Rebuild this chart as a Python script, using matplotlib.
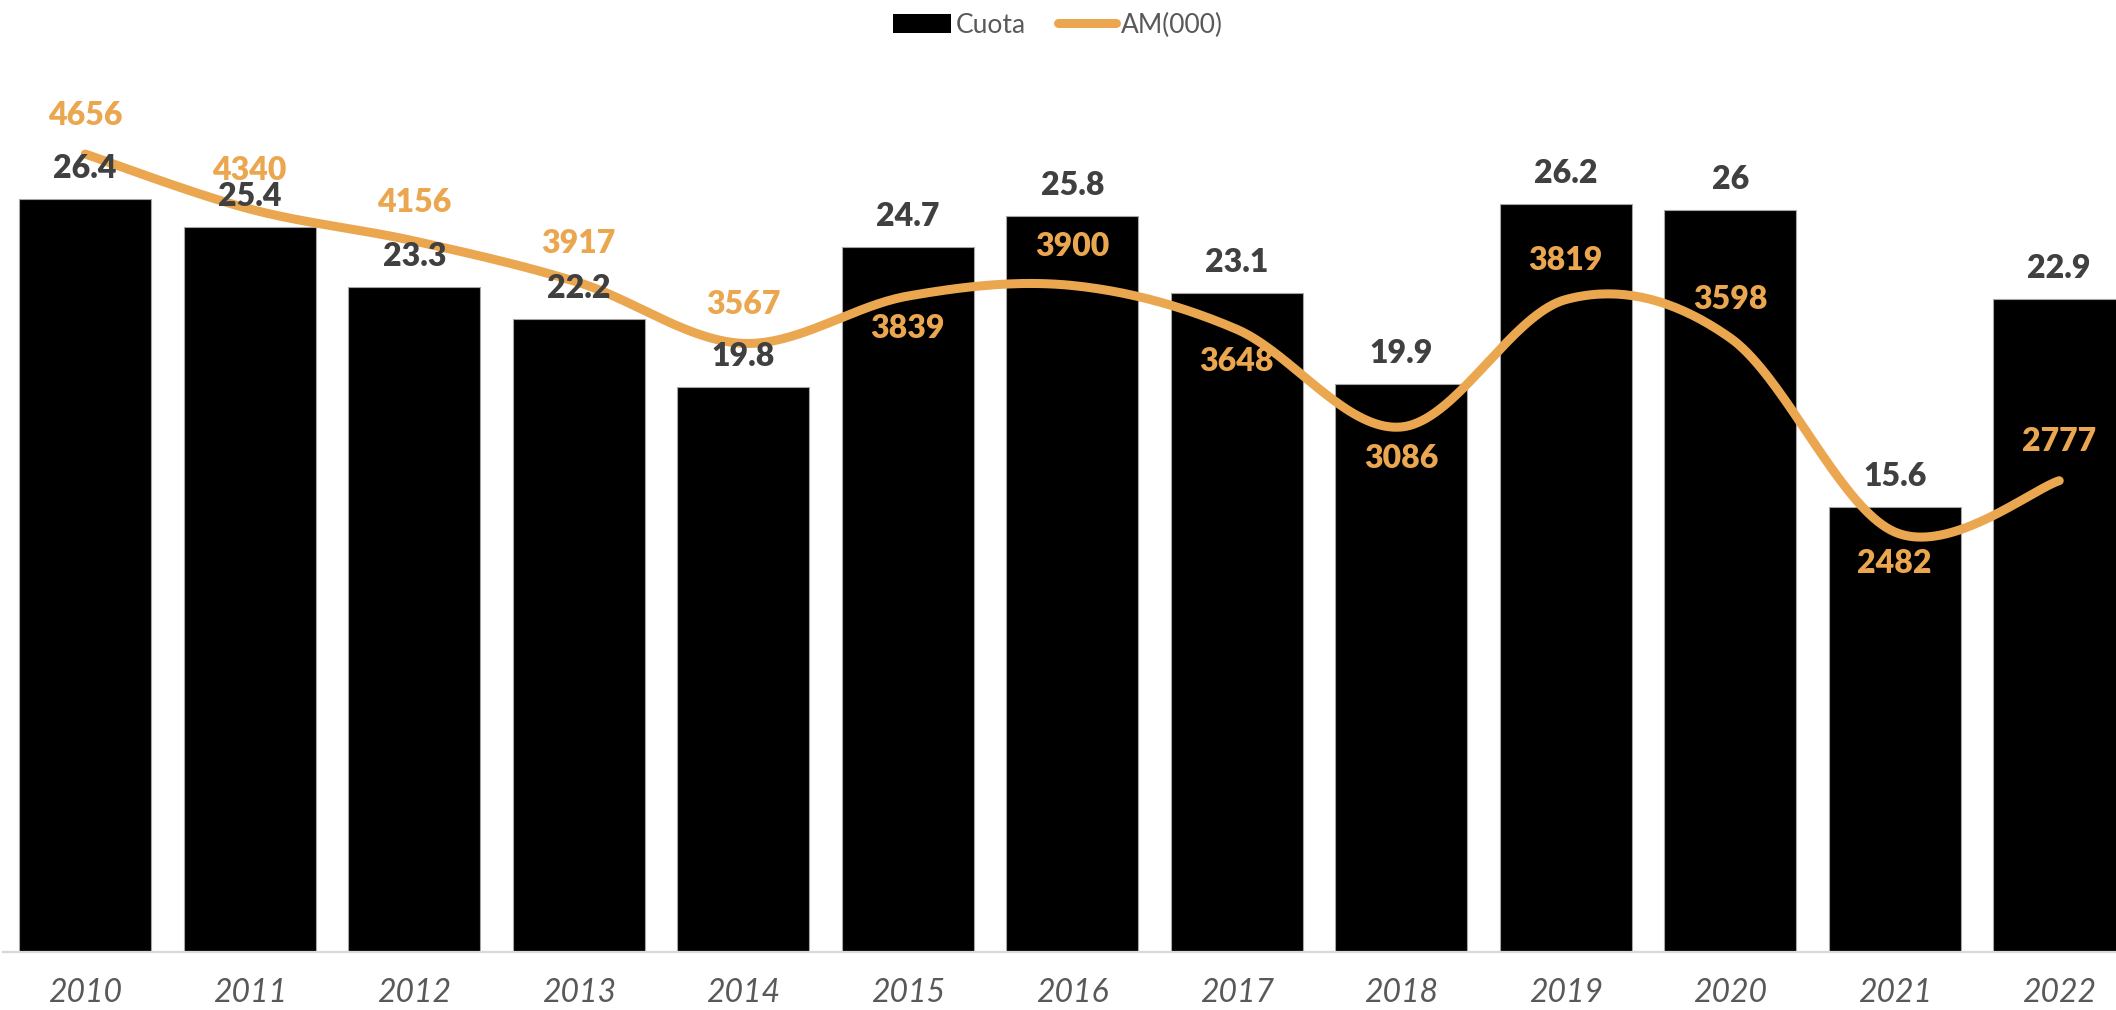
import numpy as np
import matplotlib
matplotlib.use("Agg")
import matplotlib.pyplot as plt
from matplotlib.patches import Patch
from matplotlib.lines import Line2D

years = ["2010", "2011", "2012", "2013", "2014", "2015", "2016",
         "2017", "2018", "2019", "2020", "2021", "2022"]
cuota = [26.4, 25.4, 23.3, 22.2, 19.8, 24.7, 25.8, 23.1, 19.9, 26.2, 26, 15.6, 22.9]
cuota_txt = ["26.4", "25.4", "23.3", "22.2", "19.8", "24.7", "25.8",
             "23.1", "19.9", "26.2", "26", "15.6", "22.9"]
am = [4656, 4340, 4156, 3917, 3567, 3839, 3900, 3648, 3086, 3819, 3598, 2482, 2777]
# label above (1) or below (-1) the line
am_side = [1, 1, 1, 1, 1, -1, 1, -1, -1, 1, 1, -1, 1]

ORANGE = "#EBA74F"
DARK = "#404040"
GRAY = "#595959"
FONT = "Lato"

W, H = 2116, 1010
fig = plt.figure(figsize=(W / 100, H / 100), dpi=100)
left = 3 / W
bottom = (H - 952) / H
top = 96 / H
ax = fig.add_axes([left, bottom, 1 - left, 1 - top - bottom])
spacing = 164.5
ax.set_xlim(-0.5, -0.5 + (W - 3) / spacing)
ax.set_ylim(0, 30)

x = np.arange(len(years))
ax.bar(x, cuota, width=0.8, color="black", edgecolor="#A6A6A6", linewidth=0.8, zorder=2)

for s in ["top", "right", "left"]:
    ax.spines[s].set_visible(False)
ax.spines["bottom"].set_color("#D9D9D9")
ax.spines["bottom"].set_linewidth(1.6)
ax.set_yticks([])
ax.set_xticks(x)
ax.set_xticklabels(years, fontsize=23, style="italic", color=GRAY, family=FONT)
ax.tick_params(axis="x", length=0, pad=19)

ax2 = ax.twinx()
ax2.set_ylim(66, 4990)
ax2.set_yticks([])
for s in ax2.spines.values():
    s.set_visible(False)

# Excel-like smoothed line (cubic bezier through the points)
px = np.concatenate([[x[0]], x, [x[-1]]]).astype(float)
py = np.concatenate([[am[0]], am, [am[-1]]]).astype(float)
cx, cy = [], []
t = np.linspace(0, 1, 40)
for i in range(1, len(px) - 2):
    p0 = np.array([px[i], py[i]])
    p3 = np.array([px[i + 1], py[i + 1]])
    p1 = p0 + (np.array([px[i + 1], py[i + 1]]) - np.array([px[i - 1], py[i - 1]])) / 6
    p2 = p3 - (np.array([px[i + 2], py[i + 2]]) - p0) / 6
    b = ((1 - t) ** 3)[:, None] * p0 + (3 * (1 - t) ** 2 * t)[:, None] * p1 \
        + (3 * (1 - t) * t ** 2)[:, None] * p2 + (t ** 3)[:, None] * p3
    cx.extend(b[:, 0])
    cy.extend(b[:, 1])
ax2.plot(cx, cy, color=ORANGE, lw=6.5, solid_capstyle="round", zorder=3)

for i in range(len(years)):
    ax2.annotate(cuota_txt[i], xy=(x[i], cuota[i]), xycoords=ax.transData,
                 xytext=(0, 22), textcoords="offset points", ha="center", va="center",
                 fontsize=23, fontweight="heavy", color=DARK, family=FONT, zorder=5)
    off = 28 if am_side[i] > 0 else -23
    ax2.annotate(str(am[i]), xy=(x[i], am[i]), xytext=(0, off),
                 textcoords="offset points", ha="center", va="center",
                 fontsize=23, fontweight="heavy", color=ORANGE, family=FONT, zorder=5)

handles = [Patch(facecolor="black", edgecolor="none"),
           Line2D([0], [0], color=ORANGE, lw=6.5, solid_capstyle="round")]
fig.legend(handles, ["Cuota", "AM(000)"], loc="center", bbox_to_anchor=(0.5, 1 - 25 / H),
           ncol=2, frameon=False, labelcolor=GRAY, handlelength=2.2,
           handletextpad=0.2, columnspacing=1.2, prop={"family": FONT, "size": 19})

fig.savefig("out.png", dpi=100)
